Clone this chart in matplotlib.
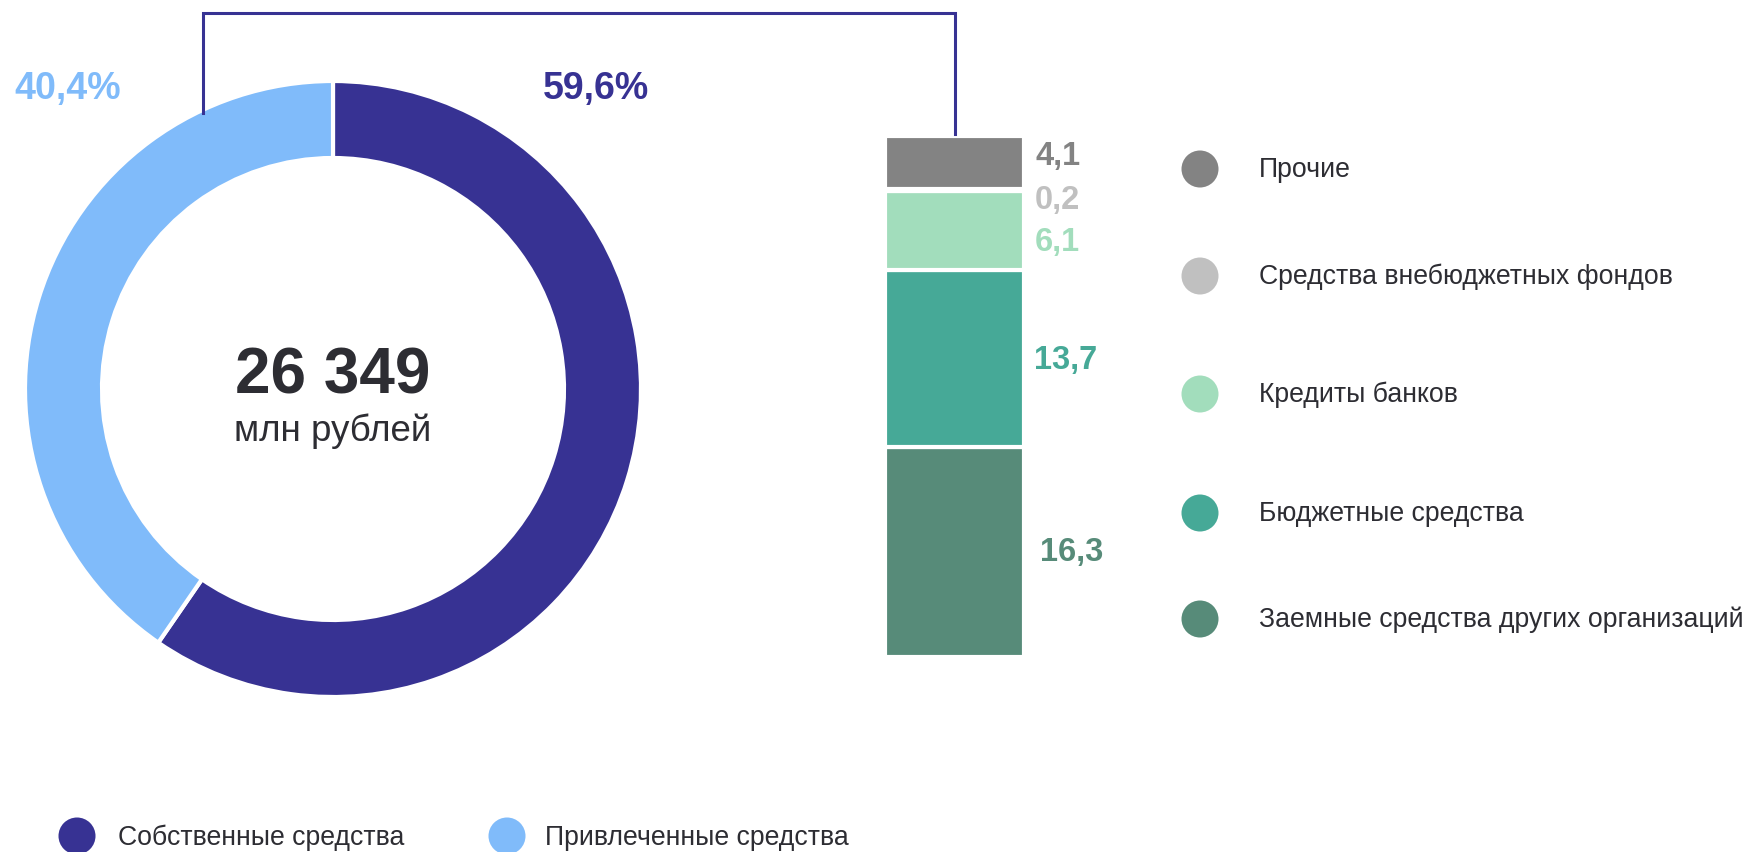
import matplotlib
matplotlib.use("Agg")
import matplotlib.pyplot as plt
from matplotlib.patches import Circle
from matplotlib.lines import Line2D

plt.rcParams['font.family'] = ['Liberation Sans', 'DejaVu Sans']

# ---- data ----
donut_labels = ["Собственные средства", "Привлеченные средства"]
donut_values = [59.6, 40.4]
donut_colors = ["#373293", "#80BBFA"]
total_value = "26 349"
total_unit = "млн рублей"

bar_labels = ["Прочие", "Средства внебюджетных фондов", "Кредиты банков",
              "Бюджетные средства", "Заемные средства других организаций"]
bar_values = [4.1, 0.2, 6.1, 13.7, 16.3]
bar_colors = ["#838383", "#C0C0C0", "#A2DDBC", "#46A997", "#578B79"]

W, H = 1746, 852
fig = plt.figure(figsize=(W / 100, H / 100), dpi=100)
fig.patch.set_facecolor("white")

def px_axes(x0, y0, x1, y1):
    return fig.add_axes([x0 / W, 1 - y1 / H, (x1 - x0) / W, (y1 - y0) / H])

# ---- donut ----
cx, cy, R = 333, 389, 308
axd = px_axes(cx - R, cy - R, cx + R, cy + R)
axd.pie(donut_values, colors=donut_colors, startangle=90, counterclock=False,
        radius=1.0, wedgeprops=dict(width=0.25, edgecolor="white", linewidth=3))
axd.set_xlim(-1, 1)
axd.set_ylim(-1, 1)
axd.set_aspect("equal")
axd.axis("off")

# ---- stacked bar ----
axb = px_axes(885, 136, 1024, 657)
order = list(range(len(bar_values)))[::-1]  # bottom-up
bottom = 0
for i in order:
    axb.bar(0.5, bar_values[i], width=1.0, bottom=bottom, color=bar_colors[i],
            edgecolor="white", linewidth=3)
    bottom += bar_values[i]
axb.set_xlim(0, 1)
axb.set_ylim(0, sum(bar_values))
axb.axis("off")

# ---- overlay for text / annotations (pixel coordinates) ----
ov = fig.add_axes([0, 0, 1, 1])
ov.set_xlim(0, W)
ov.set_ylim(H, 0)
ov.axis("off")
ov.set_zorder(5)
ov.patch.set_alpha(0)

dark = "#2D2D33"
# center text
ov.text(cx, 376, total_value, ha="center", va="center", fontsize=46,
        fontweight="bold", color=dark)
ov.text(cx, 431, total_unit, ha="center", va="center", fontsize=26.5, color=dark)

# percent labels
def fmt(v, suffix=""):
    return f"{v:.1f}".replace(".", ",") + suffix

ov.text(14, 89, fmt(donut_values[1], "%"), ha="left", va="center", fontsize=27,
        fontweight="bold", color=donut_colors[1])
ov.text(543, 89, fmt(donut_values[0], "%"), ha="left", va="center", fontsize=27,
        fontweight="bold", color=donut_colors[0])

# bracket
ov.add_line(Line2D([203, 203, 955, 955], [113, 13, 13, 134], color="#373293",
                   linewidth=2.2, solid_joinstyle="miter"))

# bar value labels
label_pos = [(1035, 156), (1035, 200), (1035, 242), (1034, 360), (1040, 553)]
for (lx, ly), v, c in zip(label_pos, bar_values, bar_colors):
    ov.text(lx, ly, fmt(v), ha="left", va="center", fontsize=23.5,
            fontweight="bold", color=c)

# right legend
leg_y = [169, 276, 394, 513, 619]
for y, lab, c in zip(leg_y, bar_labels, bar_colors):
    ov.add_patch(Circle((1200, y), 18.5, color=c, linewidth=0))
    ov.text(1259, y + 1, lab, ha="left", va="center", fontsize=19.2, color=dark)

# bottom legend
for x, tx, lab, c in zip([77, 507], [118, 545], donut_labels, donut_colors):
    ov.add_patch(Circle((x, 836), 18.5, color=c, linewidth=0))
    ov.text(tx, 838, lab, ha="left", va="center", fontsize=19.2, color=dark)

fig.savefig("out.png", dpi=100, facecolor="white")
